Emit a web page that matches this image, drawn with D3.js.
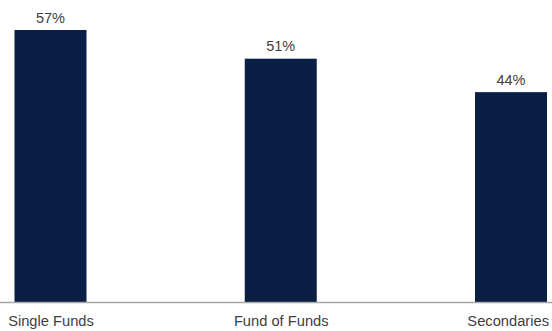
<!DOCTYPE html>
<html>
<head>
<meta charset="utf-8">
<script src="https://cdn.jsdelivr.net/npm/d3@7"></script>
<style>
  html, body { margin: 0; padding: 0; background: #fff; }
  svg { display: block; font-family: "Liberation Sans", Arial, sans-serif; }
</style>
</head>
<body>
<svg id="chart" width="552" height="331"></svg>
<script>
// Share of respondents by fund type
const categories = ["Single Funds", "Fund of Funds", "Secondaries"];
const values = [57, 51, 44];
const valueLabels = ["57%", "51%", "44%"];

const width = 552, height = 331;
const baseline = 302.5;
const barWidth = 72;

const svg = d3.select("#chart");

const x = d3.scalePoint()
  .domain(categories)
  .range([50.5, 511]);

const y = d3.scaleLinear()
  .domain([0, 57])
  .range([baseline, 30]);

// bars
svg.selectAll("rect.bar")
  .data(values)
  .join("rect")
  .attr("class", "bar")
  .attr("x", (d, i) => x(categories[i]) - barWidth / 2)
  .attr("y", d => y(d))
  .attr("width", barWidth)
  .attr("height", d => baseline - y(d))
  .attr("fill", "#0a1f44");

// value labels
svg.selectAll("text.val")
  .data(values)
  .join("text")
  .attr("class", "val")
  .attr("x", (d, i) => x(categories[i]))
  .attr("y", d => y(d) - 7.5)
  .attr("text-anchor", "middle")
  .attr("font-size", "14.5px")
  .attr("fill", "#404040")
  .text((d, i) => valueLabels[i]);

// category axis
const axis = svg.append("g")
  .attr("transform", `translate(0,${baseline})`)
  .call(d3.axisBottom(x).tickSize(0).tickPadding(13));
axis.select(".domain").remove();
axis.selectAll("text")
  .attr("font-size", "14.7px")
  .attr("font-family", "'Liberation Sans', Arial, sans-serif")
  .attr("fill", "#404040");

// keep tick labels inside the drawing area
axis.selectAll(".tick text").each(function () {
  const tick = this.parentNode;
  const tx = +tick.getAttribute("transform").match(/translate\(([-\d.]+)/)[1];
  const w = this.getComputedTextLength();
  const overflow = tx + w / 2 - (width - 3);
  if (overflow > 0) d3.select(this).attr("x", -overflow);
});

svg.append("line")
  .attr("x1", 0).attr("x2", width)
  .attr("y1", baseline).attr("y2", baseline)
  .attr("stroke", "#a6a6a6")
  .attr("stroke-width", 1.5);
</script>
</body>
</html>
